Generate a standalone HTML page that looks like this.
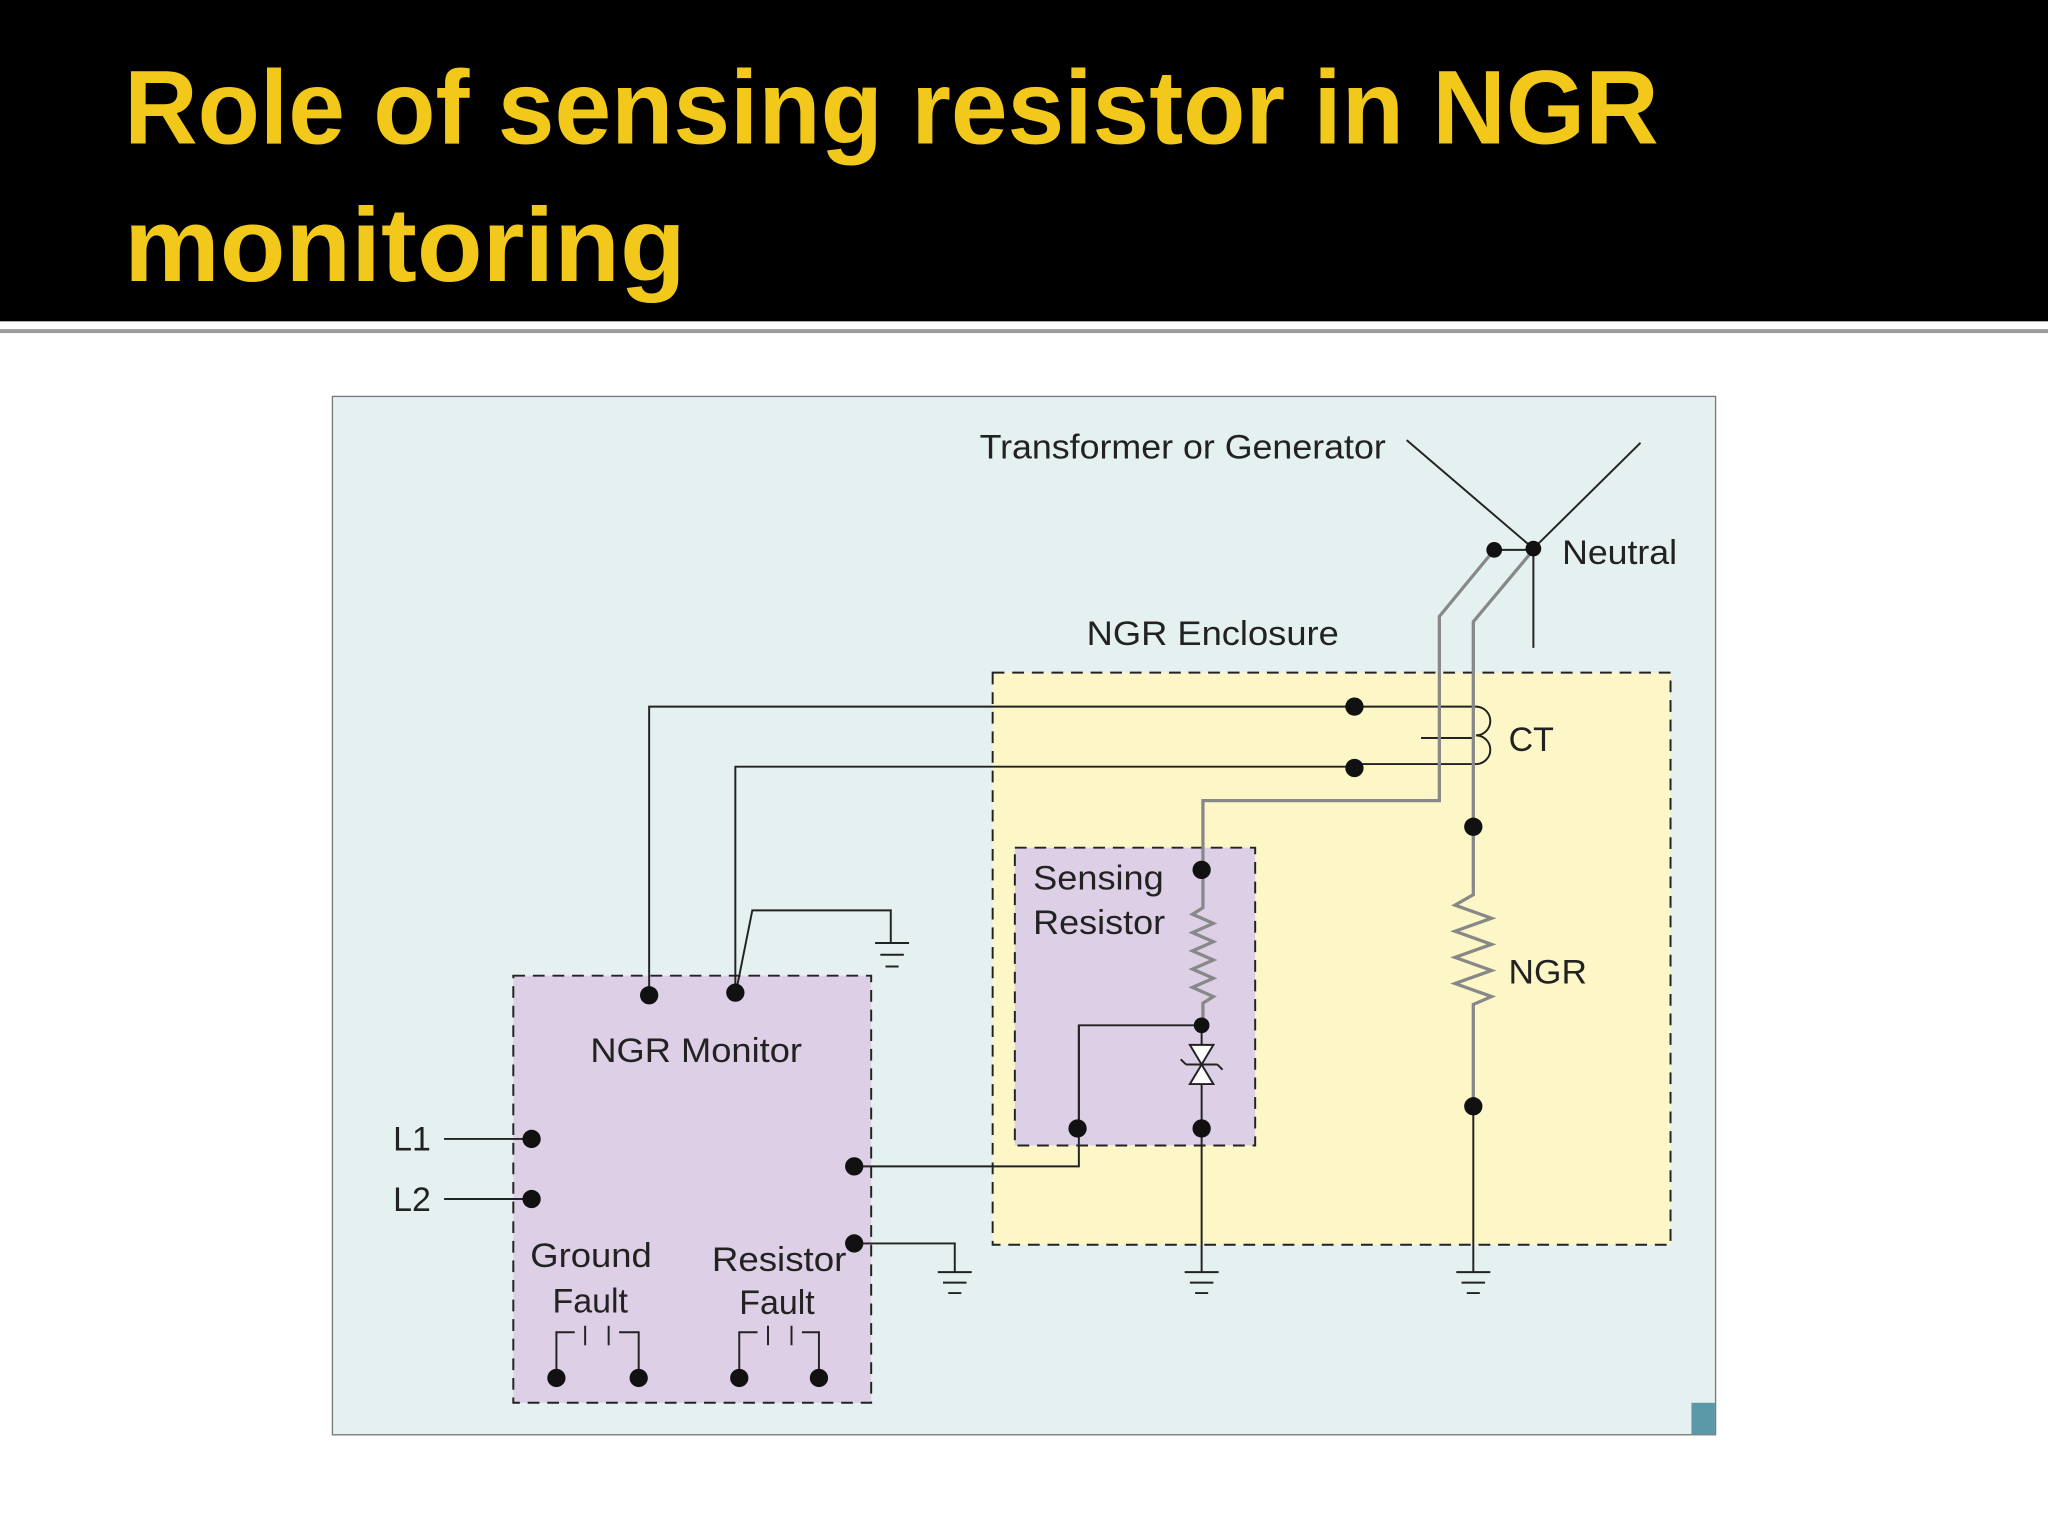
<!DOCTYPE html>
<html><head><meta charset="utf-8"><style>
html,body{margin:0;padding:0;background:#fff;}
svg{display:block;}
</style></head><body>
<svg width="2048" height="1536" viewBox="0 0 1568 1176" xmlns="http://www.w3.org/2000/svg" font-family="Liberation Sans, Arial, sans-serif">
<rect x="0" y="0" width="1568" height="1176" fill="#fff"/>
<rect x="0" y="0" width="1568" height="246" fill="#000"/>
<rect x="0" y="252" width="1568" height="3" fill="#9a9a9a"/>
<text x="95" y="110" font-size="80" font-weight="bold" fill="#f2c81b" textLength="1175" lengthAdjust="spacingAndGlyphs">Role of sensing resistor in NGR</text>
<text x="95" y="215" font-size="80" font-weight="bold" fill="#f2c81b" textLength="430" lengthAdjust="spacingAndGlyphs">monitoring</text>

<rect x="254.5" y="303.5" width="1059" height="795" fill="#e5f0f1" stroke="#777" stroke-width="1"/>
<rect x="1295" y="1074" width="18" height="24" fill="#5a9aa8"/>

<rect x="760" y="515" width="519" height="438" fill="#fdf6c6" stroke="#222" stroke-width="1.5" stroke-dasharray="9,6"/>
<rect x="777" y="649" width="184" height="228" fill="#ddd0e6" stroke="#222" stroke-width="1.5" stroke-dasharray="9,6"/>
<rect x="393" y="747" width="274" height="327" fill="#ddd0e6" stroke="#222" stroke-width="1.5" stroke-dasharray="9,6"/>

<g font-size="26" fill="#222">
<text x="750" y="351" textLength="311" lengthAdjust="spacingAndGlyphs">Transformer or Generator</text>
<text x="1196" y="432" textLength="88" lengthAdjust="spacingAndGlyphs">Neutral</text>
<text x="832" y="494" textLength="193" lengthAdjust="spacingAndGlyphs">NGR Enclosure</text>
<text x="1155" y="575">CT</text>
<text x="1155" y="753" textLength="60" lengthAdjust="spacingAndGlyphs">NGR</text>
<text x="791" y="681" textLength="100" lengthAdjust="spacingAndGlyphs">Sensing</text>
<text x="791" y="715" textLength="101" lengthAdjust="spacingAndGlyphs">Resistor</text>
<text x="452" y="813" textLength="162" lengthAdjust="spacingAndGlyphs">NGR Monitor</text>
<text x="301" y="881">L1</text>
<text x="301" y="927">L2</text>
<text x="406" y="970" textLength="93" lengthAdjust="spacingAndGlyphs">Ground</text>
<text x="423" y="1005">Fault</text>
<text x="545" y="973" textLength="103" lengthAdjust="spacingAndGlyphs">Resistor</text>
<text x="566" y="1006">Fault</text>
</g>

<g fill="none" stroke="#222" stroke-width="1.5">
<path d="M1077 337 L1174 420 L1256 339"/>
<path d="M1174 420 L1174 496"/>
<path d="M1144 421 L1174 421"/>
<path d="M497 762 V541 H1037"/>
<path d="M563 762 V587 H1037"/>
<path d="M1037 541 H1130 a10 10 0 0 1 0 22 a10 10 0 0 1 0 22 H1037" />
<path d="M1088 565 H1128"/>
<path d="M563 762 L576 697 H682 V722"/>
<path d="M670 722 H696 M674 731 H692 M678 740 H688"/>
<path d="M340 872 H407 M340 918 H407"/>
<path d="M655 893 H826 V785 H920"/>
<path d="M826 785 V864"/>
<path d="M655 952 H731 V974"/>
<path d="M718 974 H744 M722 982 H740 M726 990 H736"/>
<path d="M920 864 V974"/>
<path d="M907 974 H933 M911 982 H929 M915 990 H925"/>
<path d="M1128 847 V974"/>
<path d="M1115 974 H1141 M1119 982 H1137 M1123 990 H1133"/>
<path d="M920 785 V864"/>
<path d="M911 800 H929 L920 815 Z M911 830 H929 L920 815 Z" fill="#fff"/>
<path d="M908 815 H932 M908 815 l-4 -4 M932 815 l4 4"/>
<path d="M426 1055 V1020 H440 M448 1015 V1030 M466 1015 V1030 M474 1020 H489 V1055"/>
<path d="M566 1055 V1020 H580 M588 1015 V1030 M606 1015 V1030 M614 1020 H627 V1055"/>
</g>
<g fill="none" stroke="#888" stroke-width="2.5">
<path d="M1144 421 L1102 472 V613 H921 V666"/>
<path d="M1174 421 L1128 476 V633"/>
<path d="M1128 633 V685 l-14 8 l28 10 l-28 10 l28 10 l-28 10 l28 10 l-28 10 l28 10 l-14 6 V847"/>
<path d="M921 666 V695 l-8 5 l16 7 l-16 7 l16 7 l-16 7 l16 7 l-16 7 l16 7 l-16 7 l16 7 l-8 5 V785"/>
</g>
<g fill="#111">
<circle cx="1144" cy="421" r="6"/><circle cx="1174" cy="420" r="6"/>
<circle cx="1037" cy="541" r="7"/><circle cx="1037" cy="588" r="7"/>
<circle cx="1128" cy="633" r="7"/><circle cx="1128" cy="847" r="7"/>
<circle cx="920" cy="666" r="7"/><circle cx="920" cy="785" r="6"/>
<circle cx="825" cy="864" r="7"/><circle cx="920" cy="864" r="7"/>
<circle cx="497" cy="762" r="7"/><circle cx="563" cy="760" r="7"/>
<circle cx="407" cy="872" r="7"/><circle cx="407" cy="918" r="7"/>
<circle cx="654" cy="893" r="7"/><circle cx="654" cy="952" r="7"/>
<circle cx="426" cy="1055" r="7"/><circle cx="489" cy="1055" r="7"/>
<circle cx="566" cy="1055" r="7"/><circle cx="627" cy="1055" r="7"/>
</g>
</svg>
</body></html>
